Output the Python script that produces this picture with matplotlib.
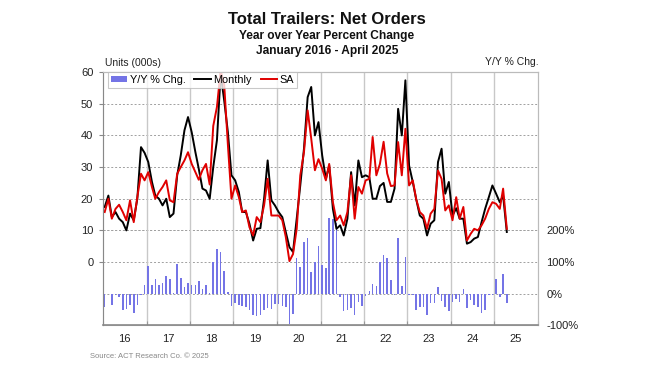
import numpy as np
import pandas as pd
import matplotlib
matplotlib.use('agg')
import matplotlib.pyplot as plt

plt.rcParams['font.family'] = ['Liberation Sans', 'DejaVu Sans']

# monthly net orders, units (000s), Jan 2016 - Apr 2025
monthly = [17.4, 21.0, 14.2, 15.8, 13.7, 12.6, 10.0, 15.3, 13.2, 20.0, 36.3, 34.5,
           31.6, 25.3, 21.0, 20.0, 17.9, 20.0, 14.2, 15.3, 27.4, 33.7, 41.6, 45.8,
           41.0, 34.7, 29.5, 23.2, 22.6, 20.0, 30.0, 38.5, 59.5, 51.0, 41.0, 27.4,
           25.8, 22.1, 15.8, 15.8, 12.1, 6.8, 10.5, 10.7, 20.0, 32.1, 19.5, 17.9,
           15.8, 14.2, 9.5, 4.7, 3.2, 13.7, 24.2, 35.8, 52.1, 55.3, 40.0, 44.2,
           33.7, 26.3, 30.5, 16.8, 10.5, 11.6, 8.4, 13.7, 28.4, 17.9, 32.1, 26.8,
           27.4, 26.8, 20.0, 20.0, 24.0, 25.0, 19.0, 19.0, 23.2, 48.4, 40.0, 57.4,
           30.5, 25.3, 20.0, 14.7, 13.7, 8.4, 12.1, 13.2, 31.6, 35.8, 21.6, 25.3,
           14.7, 17.0, 13.7, 13.7, 5.8, 6.3, 7.4, 7.9, 12.6, 16.8, 20.5, 24.2,
           21.6, 18.9, 21.0, 9.5]

sa = [15.8, 20.0, 13.7, 16.8, 18.1, 15.8, 13.2, 19.5, 12.6, 20.5, 27.9, 25.8,
      28.4, 23.7, 20.0, 22.1, 23.7, 25.8, 19.5, 18.9, 27.9, 30.0, 32.1, 34.7,
      31.0, 28.4, 26.0, 29.0, 31.0, 24.5, 43.0, 49.0, 60.5, 56.0, 37.0, 20.0,
      24.2, 20.5, 15.8, 16.3, 11.0, 8.4, 14.2, 12.6, 17.9, 26.3, 14.7, 14.7,
      14.7, 13.2, 8.0, 0.3, 2.5, 10.5, 27.4, 34.7, 47.9, 39.0, 29.0, 32.5,
      29.5, 25.8, 31.0, 18.9, 13.2, 14.7, 11.6, 15.8, 27.4, 13.7, 23.7, 21.6,
      25.8, 26.3, 39.5, 27.4, 31.0, 38.0, 28.0, 24.0, 24.2, 37.9, 27.4, 42.1,
      24.2, 25.8, 20.0, 15.8, 14.7, 10.5, 15.3, 16.8, 28.9, 26.3, 16.3, 17.9,
      13.2, 20.5, 13.7, 17.4, 6.8, 8.9, 10.5, 10.0, 11.6, 13.7, 16.8, 18.9,
      18.4, 16.8, 23.2, 10.5]

# year over year % change
yoy = [-41, -2, -36, -4, -9, -52, -48, -36, -62, -36, -4, 27,
       87, 27, 45, 27, 33, 56, 46, 3, 94, 51, 22, 33,
       27, 29, 41, 15, 29, 3, 101, 141, 133, 73, 6, -38,
       -28, -36, -38, -42, -53, -66, -69, -67, -52, -46, -49, -33,
       -33, -38, -41, -97, -65, 114, 83, 162, 177, 70, 101, 150,
       90, 82, 240, 235, 222, -10, -55, -53, -45, -67, -25, -40,
       -6, 7, 32, 25, 101, 122, 112, 44, -4, 176, 23, 116,
       -3, -3, -50, -41, -41, -66, -30, -28, 20, -22, -41, -55,
       -27, -16, -25, 16, -45, -21, -35, -41, -60, -52, -4, -3,
       48, -10, 61, -30]

left_ticks = [0, 10, 20, 30, 40, 50, 60]
right_ticks = [-100, 0, 100, 200]
right_labels = ['-100%', '0%', '100%', '200%']
year_labels = ['16', '17', '18', '19', '20', '21', '22', '23', '24', '25']

dates = pd.date_range('2016-01-01', periods=len(monthly), freq='MS') + pd.Timedelta(days=14)

fig = plt.figure(figsize=(6.5, 3.66), dpi=100)
ax = fig.add_axes([0.1585, 0.111, 0.669, 0.692])
ax2 = ax.twinx()
ax.set_zorder(ax2.get_zorder() + 1)
ax.patch.set_visible(False)

grid_kw = dict(color='#a0a0a0', linestyle=(0, (2, 2)), linewidth=0.7)

# bars on the right (percent) axis
ax2.bar(dates, yoy, width=13, color='#7474e6', label='Y/Y % Chg.')
ax2.set_ylim(-100, 700)
ax2.set_yticks(right_ticks)
ax2.set_yticklabels(right_labels)
for t in right_ticks[1:]:
    ax2.axhline(t, zorder=0, **grid_kw)

# lines on the left (units) axis
ax.plot(dates, monthly, color='black', lw=1.4, label='Monthly')
ax.plot(dates, sa, color='#e00000', lw=1.4, label='SA')
ax.set_ylim(-20, 60)
ax.set_yticks(left_ticks)
for t in left_ticks[1:-1]:
    ax2.axhline((t + 10) * 10, zorder=0, **grid_kw)

start = pd.Timestamp('2016-01-01')
end = pd.Timestamp('2026-01-01')
ax.set_xlim(start, end)
years = pd.date_range(start, end, freq='YS')
for y in years[1:-1]:
    ax2.axvline(y, color='#c8c8c8', lw=1.0, zorder=0)
ax.set_xticks(years)
ax.set_xticklabels([])
mids = pd.date_range('2016-07-01', periods=len(year_labels), freq='12MS')
ax.set_xticks(mids, minor=True)
ax.set_xticklabels(year_labels, minor=True)
ax.tick_params(axis='x', which='major', direction='in', length=3, color='#999999')
ax.tick_params(axis='x', which='minor', length=0, pad=6, labelsize=8, labelcolor='#222222')
ax.tick_params(axis='y', length=3, color='#888888', labelsize=8, labelcolor='#222222', pad=4)
ax2.tick_params(axis='y', length=0, labelsize=8, labelcolor='#222222', pad=6)

for a in (ax, ax2):
    for s in a.spines.values():
        s.set_color('#bbbbbb')
        s.set_linewidth(0.8)
ax.spines['left'].set_color('#888888')
ax.spines['bottom'].set_color('#888888')
ax.spines['bottom'].set_linewidth(1.2)

h1, l1 = ax2.get_legend_handles_labels()
h2, l2 = ax.get_legend_handles_labels()
leg = ax.legend(h1 + h2, l1 + l2, ncol=3, loc='upper left', bbox_to_anchor=(0.012, 1.0),
                borderaxespad=0, fontsize=7.8, frameon=True, fancybox=False,
                handlelength=1.5, handleheight=0.45, columnspacing=0.8, handletextpad=0.25,
                borderpad=0.25)
leg.get_frame().set_edgecolor('#bbbbbb')
leg.get_frame().set_linewidth(0.8)

fig.text(0.503, 0.948, 'Total Trailers: Net Orders', ha='center', va='center',
         fontsize=12, fontweight='bold', color='#111111')
fig.text(0.503, 0.902, 'Year over Year Percent Change', ha='center', va='center',
         fontsize=8.6, fontweight='bold', color='#111111')
fig.text(0.503, 0.861, 'January 2016 - April 2025', ha='center', va='center',
         fontsize=8.6, fontweight='bold', color='#111111')
fig.text(0.162, 0.828, 'Units (000s)', ha='left', va='center', fontsize=7.5, color='#222222')
fig.text(0.829, 0.831, 'Y/Y % Chg.', ha='right', va='center', fontsize=7.5, color='#222222')
fig.text(0.138, 0.025, 'Source: ACT Research Co. \u00a9 2025', ha='left', va='center',
         fontsize=5.5, color='#888888')

plt.savefig('out.png', dpi=100)
plt.close()
